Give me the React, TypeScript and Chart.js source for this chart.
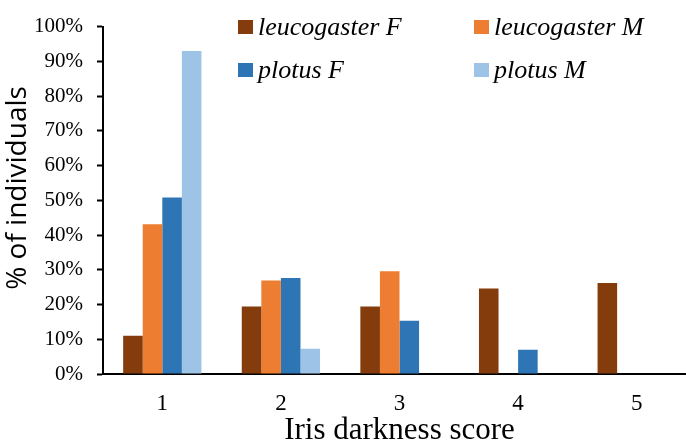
import React, { useEffect, useRef } from "react";
import { Chart, registerables } from "chart.js";

Chart.register(...registerables);

const categories = ["1", "2", "3", "4", "5"];
const seriesLabels = ["leucogaster F", "leucogaster M", "plotus F", "plotus M"];
const leucogasterF = [11.0, 19.4, 19.4, 24.6, 26.2];
const leucogasterM = [43.1, 26.9, 29.6, 0, 0];
const plotusF = [50.8, 27.6, 15.3, 7.0, 0];
const plotusM = [93.0, 7.3, 0, 0, 0];
const seriesColors = ["#843C0C", "#ED7D31", "#2E75B6", "#9DC3E6"];
const yTicks = [0, 10, 20, 30, 40, 50, 60, 70, 80, 90, 100];
const yTitle = "% of individuals";
const xTitle = "Iris darkness score";

const legendPlugin = {
  id: "gridLegend",
  afterDraw(chart: any) {
    const ctx = chart.ctx;
    const cols = [238, 474];
    const rows = [35, 78];
    ctx.save();
    ctx.font = "italic 26px 'Liberation Serif', 'Times New Roman', serif";
    ctx.textBaseline = "alphabetic";
    ctx.textAlign = "left";
    chart.data.datasets.forEach((ds: any, i: number) => {
      const x = cols[i % 2];
      const y = rows[Math.floor(i / 2)];
      ctx.fillStyle = ds.backgroundColor;
      ctx.fillRect(x, y - 15, 15, 14);
      ctx.fillStyle = "#000";
      ctx.fillText(ds.label, x + 20, y);
    });
    ctx.restore();

    // y-axis title
    ctx.save();
    ctx.translate(18, 188);
    ctx.rotate(-Math.PI / 2);
    ctx.font = "28px 'Open Sans', sans-serif";
    ctx.fillStyle = "#000";
    ctx.textAlign = "center";
    ctx.textBaseline = "middle";
    ctx.fillText(yTitle, 0, 0);
    ctx.restore();
  },
};

export default function App() {
  const ref = useRef<HTMLCanvasElement | null>(null);
  useEffect(() => {
    if (!ref.current) return;
    const data = [leucogasterF, leucogasterM, plotusF, plotusM];
    const chart = new Chart(ref.current, {
      type: "bar",
      data: {
        labels: categories,
        datasets: seriesLabels.map((label, i) => ({
          label,
          data: data[i],
          backgroundColor: seriesColors[i],
          borderWidth: 0,
          barPercentage: 1,
          categoryPercentage: 0.66,
        })),
      },
      options: {
        responsive: false,
        animation: false,
        devicePixelRatio: 1,
        layout: { padding: { top: 14, right: 4, left: 0, bottom: 0 } },
        plugins: {
          legend: { display: false },
          tooltip: { enabled: false },
        },
        scales: {
          x: {
            grid: { display: false, drawTicks: false },
            border: { display: true, color: "#000", width: 2 },
            ticks: {
              color: "#000",
              padding: 16,
              font: { family: "'Liberation Serif', serif", size: 23 },
            },
            title: {
              display: true,
              text: xTitle,
              color: "#000",
              font: { family: "'Liberation Serif', serif", size: 31 },
              padding: { top: 0, bottom: -2 },
            },
            afterFit: (scale: any) => {
              scale.height = 73;
            },
          },
          y: {
            min: 0,
            max: 100,
            afterBuildTicks: (scale: any) => {
              scale.ticks = yTicks.map((v) => ({ value: v }));
            },
            grid: {
              drawOnChartArea: false,
              drawTicks: true,
              tickLength: 6,
              tickWidth: 2,
              tickColor: "#000",
            },
            border: { display: true, color: "#000", width: 2 },
            ticks: {
              color: "#000",
              padding: 14,
              font: { family: "'Liberation Serif', serif", size: 21 },
              callback: (v: any) => v + "%",
            },
            title: { display: false },
            afterFit: (scale: any) => {
              scale.width = 103;
            },
          },
        },
      },
      plugins: [legendPlugin],
    });
    return () => chart.destroy();
  }, []);
  return (
    <div
      style={{
        position: "fixed",
        left: 0,
        top: 0,
        width: 686,
        height: 447,
        overflow: "hidden",
        background: "#fff",
      }}
    >
      <canvas ref={ref} width={700} height={447} style={{ display: "block" }} />
    </div>
  );
}
